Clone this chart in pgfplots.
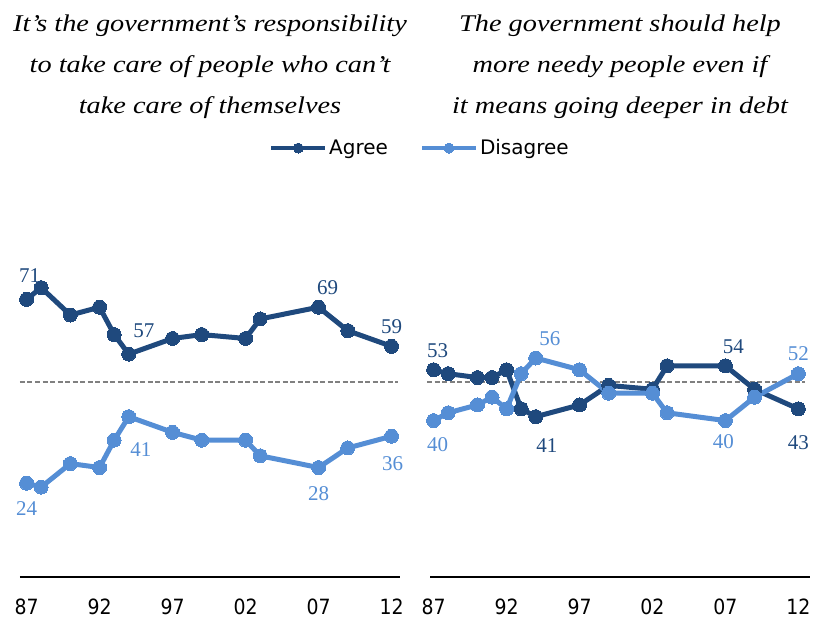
\documentclass[border=0pt]{standalone}
\usepackage{pgfplots}
\pgfplotsset{compat=1.18}
\usepackage{fontspec}
\setmainfont{Liberation Serif}
\newfontfamily\titlef[FakeStretch=1.18]{Liberation Serif}
\newfontfamily\sansf{DejaVu Sans}
\newfontfamily\tickf[FakeStretch=0.9]{DejaVu Sans}
\definecolor{agree}{RGB}{31,73,125}
\definecolor{disagree}{RGB}{85,142,213}
\definecolor{refgray}{RGB}{128,128,128}
\tikzset{
 lab/.style={font=\fontsize{21}{24}\selectfont, text=#1, anchor=center, inner sep=0pt},
}
\pgfplotsset{
 panel/.style={
  scale only axis, width=380pt, height=391pt, anchor=south west,
  ymin=0, ymax=100, clip=false,
  axis y line=none, axis x line=bottom,
  x axis line style={-, line width=2.5pt, black},
  xtick={1987,1992,1997,2002,2007,2012},
  xticklabels={87,92,97,02,07,12},
  major tick length=0pt,
  tick style={draw=none},
  xticklabel style={font=\tickf\fontsize{21}{24}\selectfont, anchor=north, inner sep=0pt, yshift=-22pt},
 },
 ser/.style={color=#1, line width=5pt, mark=*, mark size=7pt, mark options={solid, fill=#1, line width=0pt}},
 refline/.style={refgray, line width=2pt, dash pattern=on 5pt off 2.5pt, forget plot},
}
\begin{document}
\begin{tikzpicture}
\useasboundingbox (0pt,0pt) rectangle (829pt,619pt);
\node[font=\titlef\itshape\fontsize{24}{41}\selectfont, align=center] at (210pt,552pt) {It’s the government’s responsibility\\to take care of people who can’t\\take care of themselves};
\node[font=\titlef\itshape\fontsize{24}{41}\selectfont, align=center] at (620pt,552pt) {The government should help\\more needy people even if\\it means going deeper in debt};

\begin{axis}[panel, at={(20pt,42pt)}, xmin=1986.55, xmax=2012.58,
  legend columns=2,
  legend style={at={(1.0526,1.097)}, anchor=center, draw=none, fill=none,
    font=\sansf\fontsize{20}{24}\selectfont, inner sep=0pt,
    /tikz/every even column/.append style={column sep=30pt}},
  legend image code/.code={\draw[#1, line width=4pt, mark size=5pt, mark repeat=2, mark phase=2] plot coordinates {(0pt,0pt) (27pt,0pt) (54pt,0pt)};}]
\addplot[refline] coordinates {(1986.55,50) (2012.45,50)};
\addplot[ser=agree] coordinates {(1987,71)(1988,74)(1990,67)(1992,69)(1993,62)(1994,57)(1997,61)(1999,62)(2002,61)(2003,66)(2007,69)(2009,63)(2012,59)};
\addplot[ser=disagree] coordinates {(1987,24)(1988,23)(1990,29)(1992,28)(1993,35)(1994,41)(1997,37)(1999,35)(2002,35)(2003,31)(2007,28)(2009,33)(2012,36)};
\legend{Agree, Disagree}
\node[lab=agree, xshift=3pt, yshift=24pt] at (axis cs:1987,71) {71};
\node[lab=agree, xshift=15pt, yshift=23pt] at (axis cs:1994,57) {57};
\node[lab=agree, xshift=9pt, yshift=20pt] at (axis cs:2007,69) {69};
\node[lab=agree, xshift=0pt, yshift=20pt] at (axis cs:2012,59) {59};
\node[lab=disagree, xshift=0pt, yshift=-25pt] at (axis cs:1987,24) {24};
\node[lab=disagree, xshift=12pt, yshift=-33pt] at (axis cs:1994,41) {41};
\node[lab=disagree, xshift=0pt, yshift=-26pt] at (axis cs:2007,28) {28};
\node[lab=disagree, xshift=1pt, yshift=-27pt] at (axis cs:2012,36) {36};
\end{axis}

\begin{axis}[panel, at={(430pt,42pt)}, xmin=1986.75, xmax=2012.8]
\addplot[refline] coordinates {(1986.55,50) (2012.45,50)};
\addplot[ser=agree] coordinates {(1987,53)(1988,52)(1990,51)(1991,51)(1992,53)(1993,43)(1994,41)(1997,44)(1999,49)(2002,48)(2003,54)(2007,54)(2009,48)(2012,43)};
\addplot[ser=disagree] coordinates {(1987,40)(1988,42)(1990,44)(1991,46)(1992,43)(1993,52)(1994,56)(1997,53)(1999,47)(2002,47)(2003,42)(2007,40)(2009,46)(2012,52)};
\node[lab=agree, xshift=4pt, yshift=19pt] at (axis cs:1987,53) {53};
\node[lab=disagree, xshift=4pt, yshift=-24pt] at (axis cs:1987,40) {40};
\node[lab=disagree, xshift=14pt, yshift=19pt] at (axis cs:1994,56) {56};
\node[lab=agree, xshift=11pt, yshift=-29pt] at (axis cs:1994,41) {41};
\node[lab=agree, xshift=8pt, yshift=19pt] at (axis cs:2007,54) {54};
\node[lab=disagree, xshift=-2pt, yshift=-21pt] at (axis cs:2007,40) {40};
\node[lab=disagree, xshift=0pt, yshift=20pt] at (axis cs:2012,52) {52};
\node[lab=agree, xshift=0pt, yshift=-34pt] at (axis cs:2012,43) {43};
\end{axis}
\end{tikzpicture}
\end{document}
